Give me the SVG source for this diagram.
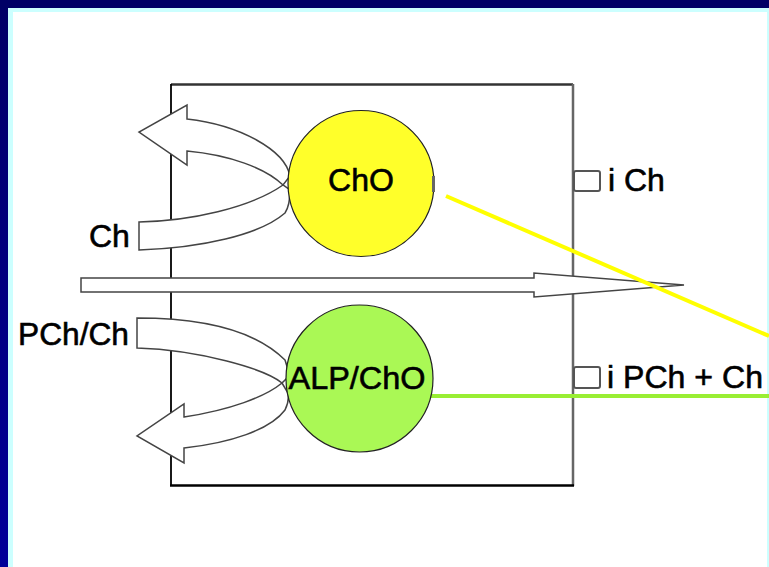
<svg xmlns="http://www.w3.org/2000/svg" width="769" height="567" viewBox="0 0 769 567">
<defs>
<linearGradient id="lb" x1="0" y1="0" x2="0" y2="1">
<stop offset="0" stop-color="#000066"/>
<stop offset="1" stop-color="#000099"/>
</linearGradient>
<style>
.t{font-family:"Liberation Sans",Arial,sans-serif;font-size:32px;fill:#000;stroke:#000;stroke-width:0.6}
.band{fill:#fff;stroke:#444;stroke-width:1.5;stroke-linejoin:miter}
.sq{fill:#fff;stroke:#555;stroke-width:2}
</style>
</defs>
<rect x="0" y="0" width="769" height="567" fill="#fff"/>
<rect x="8" y="8" width="761" height="559" fill="#ccffff"/>
<rect x="13" y="12" width="754" height="555" fill="#fff"/>
<rect x="0" y="0" width="8" height="567" fill="url(#lb)"/>
<rect x="0" y="0" width="769" height="8" fill="#000066"/>

<g id="box">
<line x1="171" y1="84.5" x2="573" y2="84.5" stroke="#333" stroke-width="2.5"/>
<line x1="573" y1="84" x2="573" y2="486" stroke="#666" stroke-width="2.5"/>
<line x1="170" y1="485.5" x2="574" y2="485.5" stroke="#000" stroke-width="2.5"/>
<line x1="171" y1="84" x2="171" y2="486" stroke="#000" stroke-width="1.8"/>
</g>

<g id="connectors">
<path class="band" d="M139,222 C190,221 250,208 283,185 L290,190 C290,200 289,207 285,213 C260,235 200,248 139,250 Z"/>
<path class="band" d="M290,176 C285,150 240,125 187,119 L187,105 L139,132 L187,165 L187,151 C230,155 265,168 283,185 Z"/>
<path class="band" d="M137,318 C200,318 255,330 285,360 C288,368 288,375 287,378 L282,383 C265,369 200,350 137,348 Z"/>
<path class="band" d="M282,383 C265,397 230,410 184,417 L184,404 L137,436 L184,463 L184,448 C230,443 270,430 285,410 C288,404 289,398 288,393 Z"/>
<path class="band" d="M81,278 L534,278 L534,273 L684,285 L534,297 L534,292 L81,292 Z"/>
<line x1="446" y1="196" x2="769" y2="336" stroke="#ffff00" stroke-width="4"/>
<line x1="430" y1="396" x2="769" y2="396" stroke="#99ee33" stroke-width="4"/>
</g>

<g id="cho">
<circle cx="361" cy="183.5" r="73" fill="#ffff2a" stroke="#222" stroke-width="1.2"/>
<rect x="432" y="176" width="3" height="16" fill="#666"/>
<text class="t" x="361" y="191" text-anchor="middle">ChO</text>
</g>

<g id="alp">
<circle cx="359.5" cy="378.5" r="73.5" fill="#aaf855" stroke="#222" stroke-width="1.2"/>
<text class="t" x="357" y="389" text-anchor="middle" textLength="137" lengthAdjust="spacingAndGlyphs">ALP/ChO</text>
</g>

<g id="labels">
<text class="t" x="89" y="247">Ch</text>
<text class="t" x="18" y="345" textLength="111" lengthAdjust="spacingAndGlyphs">PCh/Ch</text>
</g>

<g id="ich">
<rect class="sq" x="574" y="171" width="26" height="20" rx="2"/>
<text class="t" x="608" y="191">i Ch</text>
</g>

<g id="ipch">
<rect class="sq" x="574" y="367" width="26" height="21" rx="2"/>
<text class="t" x="607" y="388" textLength="156" lengthAdjust="spacingAndGlyphs">i PCh + Ch</text>
</g>
</svg>
